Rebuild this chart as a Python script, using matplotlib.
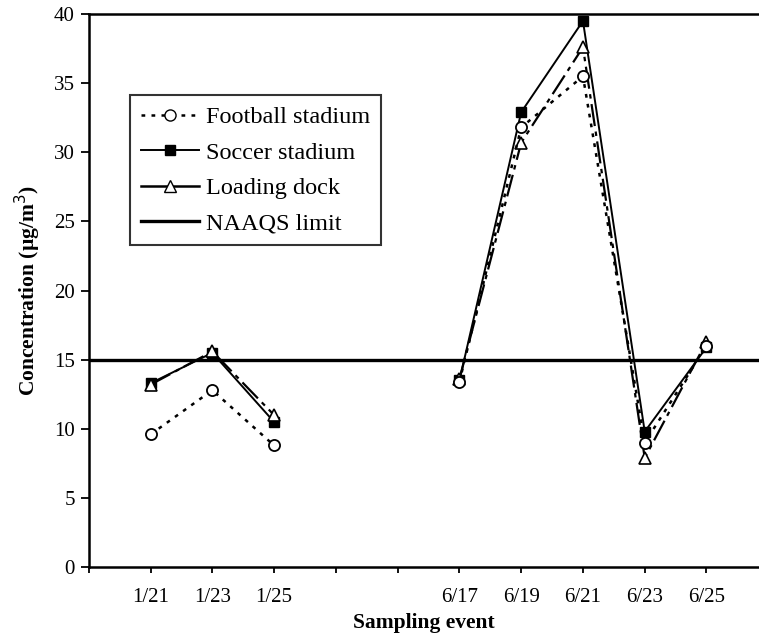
import numpy as np
import matplotlib
matplotlib.use("Agg")
import matplotlib.pyplot as plt
from matplotlib.lines import Line2D

# ---- data ----
tick_labels = ["", "1/21", "1/23", "1/25", "", "", "6/17", "6/19", "6/21", "6/23", "6/25"]
events = ["1/21", "1/23", "1/25", "6/17", "6/19", "6/21", "6/23", "6/25"]
event_pos = [1, 2, 3, 6, 7, 8, 9, 10]
football = [9.6, 12.8, 8.8, 13.4, 31.8, 35.5, 9.0, 16.0]
soccer = [13.3, 15.5, 10.5, 13.5, 32.9, 39.5, 9.8, 15.9]
loading = [13.2, 15.6, 11.0, 13.6, 30.7, 37.6, 7.9, 16.3]
naaqs = 15.0

serif = ["Liberation Serif", "DejaVu Serif"]
plt.rcParams["font.family"] = serif

fig = plt.figure(figsize=(7.59, 6.38), dpi=100)
ax = fig.add_axes([0.117, 0.111, 0.883, 0.867])

def segs(vals):
    # split into the two sampling campaigns (not connected)
    return [(event_pos[:3], vals[:3]), (event_pos[3:], vals[3:])]

ax.axhline(naaqs, color="black", lw=2.4, zorder=1)

for xs, ys in segs(football):
    ax.plot(xs, ys, linestyle=(0, (1.5, 2.5)), color="black", lw=1.8,
            marker="o", markersize=8, markerfacecolor="white",
            markeredgecolor="black", markeredgewidth=1.3, zorder=4)
for xs, ys in segs(soccer):
    ax.plot(xs, ys, linestyle="-", color="black", lw=1.4,
            marker="s", markersize=7, markerfacecolor="black",
            markeredgecolor="black", zorder=3)
for xs, ys in segs(loading):
    ax.plot(xs, ys, linestyle=(0, (10, 2.5, 2, 2.5)), color="black", lw=1.6,
            marker="^", markersize=9, markerfacecolor="white",
            markeredgecolor="black", markeredgewidth=1.2, zorder=3)

ax.set_xlim(0, 10.85)
ax.set_ylim(0, 40)
ax.set_xticks(range(len(tick_labels)))
ax.set_xticklabels(tick_labels)
ax.set_yticks(np.arange(0, 41, 5))
ax.tick_params(axis="y", direction="out", length=6, width=1.3, labelsize=15, pad=4)
ax.tick_params(axis="x", direction="out", length=4, width=1.3, labelsize=15, pad=11)
for s in ["left", "bottom", "top"]:
    ax.spines[s].set_linewidth(1.8)
ax.spines["right"].set_visible(False)

ax.set_ylabel("Concentration (\u00b5g/m$^3$)", fontsize=15.5, fontweight="bold", labelpad=8)
ax.set_xlabel("Sampling event", fontsize=15.5, fontweight="bold", labelpad=4)

handles = [
    Line2D([], [], linestyle=(0, (1.5, 2.5)), color="black", lw=1.8, marker="o",
           markersize=8, markerfacecolor="white", markeredgecolor="black"),
    Line2D([], [], linestyle="-", color="black", lw=1.4, marker="s",
           markersize=7, markerfacecolor="black"),
    Line2D([], [], linestyle="-", color="black", lw=1.8, marker="^",
           markersize=9, markerfacecolor="white", markeredgecolor="black"),
    Line2D([], [], linestyle="-", color="black", lw=2.4),
]
labels = ["Football stadium", "Soccer stadium", "Loading dock", "NAAQS limit"]
leg = ax.legend(handles, labels, loc="upper left", bbox_to_anchor=(0.061, 0.853),
                fontsize=17.5, frameon=True, fancybox=False, edgecolor="black",
                handlelength=2.4, handletextpad=0.3, borderpad=0.45, labelspacing=0.55,
                borderaxespad=0)
leg.get_frame().set_linewidth(1.5)

fig.savefig("out.png", dpi=100)
